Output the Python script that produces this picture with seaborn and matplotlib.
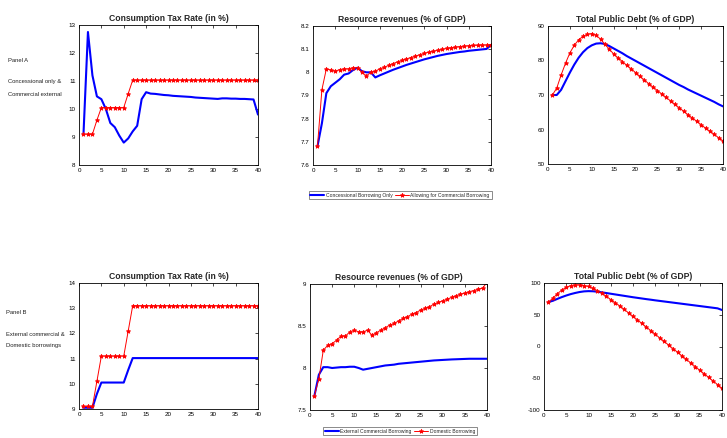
import numpy as np
import pandas as pd
import matplotlib
matplotlib.use("Agg")
import matplotlib.pyplot as plt
import seaborn as sns

periods = list(range(1, 41))

# Panel A: concessional only vs allowing commercial external borrowing
tax_a_conc = [9.1, 12.75, 11.2, 10.45, 10.35, 10.0, 9.5, 9.35, 9.05, 8.8,
              8.95, 9.2, 9.4, 10.35, 10.6, 10.55, 10.54, 10.52, 10.5, 10.49,
              10.47, 10.46, 10.45, 10.44, 10.43, 10.41, 10.4, 10.39, 10.38, 10.37,
              10.36, 10.38, 10.38, 10.37, 10.37, 10.36, 10.36, 10.35, 10.34, 9.8]
tax_a_comm = [9.1, 9.1, 9.1, 9.6, 10.05, 10.05, 10.05, 10.05, 10.05, 10.05,
              10.55, 11.03, 11.03, 11.03, 11.03, 11.03, 11.03, 11.03, 11.03, 11.03,
              11.03, 11.03, 11.03, 11.03, 11.03, 11.03, 11.03, 11.03, 11.03, 11.03,
              11.03, 11.03, 11.03, 11.03, 11.03, 11.03, 11.03, 11.03, 11.03, 11.03]
res_a_conc = [7.68, 7.78, 7.91, 7.94, 7.955, 7.97, 7.99, 7.995, 8.01, 8.02,
              8.005, 8.0, 8.0, 7.978, 7.987, 7.995, 8.003, 8.011, 8.018, 8.025,
              8.032, 8.038, 8.044, 8.05, 8.056, 8.061, 8.066, 8.071, 8.075, 8.079,
              8.082, 8.085, 8.088, 8.09, 8.093, 8.095, 8.097, 8.099, 8.101, 8.118]
res_a_comm = [7.68, 7.925, 8.015, 8.01, 8.005, 8.012, 8.015, 8.015, 8.02, 8.02,
              8.0, 7.985, 8.0, 8.005, 8.015, 8.022, 8.03, 8.038, 8.045, 8.052,
              8.058, 8.064, 8.07, 8.076, 8.082, 8.087, 8.091, 8.095, 8.099, 8.103,
              8.106, 8.109, 8.111, 8.113, 8.115, 8.116, 8.117, 8.118, 8.118, 8.12]
debt_a_conc = [70.0, 70.0, 71.5, 74.0, 76.5, 78.8, 80.8, 82.4, 83.6, 84.4,
               84.9, 85.0, 84.8, 84.2, 83.5, 82.8, 82.1, 81.3, 80.6, 79.9,
               79.2, 78.5, 77.8, 77.1, 76.4, 75.7, 75.0, 74.3, 73.6, 72.9,
               72.3, 71.6, 71.0, 70.4, 69.8, 69.2, 68.6, 68.0, 67.3, 66.7]
debt_a_comm = [70.0, 72.0, 75.8, 79.2, 82.2, 84.4, 86.0, 87.0, 87.6, 87.8,
               87.3, 86.2, 84.7, 83.3, 81.9, 80.8, 79.7, 78.6, 77.6, 76.5,
               75.4, 74.4, 73.3, 72.3, 71.3, 70.3, 69.3, 68.3, 67.3, 66.3,
               65.3, 64.3, 63.3, 62.4, 61.4, 60.4, 59.5, 58.6, 57.6, 56.7]

# Panel B: external commercial vs domestic borrowing
tax_b_ext = [9.05, 9.05, 9.05, 9.6, 10.05, 10.05, 10.05, 10.05, 10.05, 10.05,
             10.55, 11.02, 11.02, 11.02, 11.02, 11.02, 11.02, 11.02, 11.02, 11.02,
             11.02, 11.02, 11.02, 11.02, 11.02, 11.02, 11.02, 11.02, 11.02, 11.02,
             11.02, 11.02, 11.02, 11.02, 11.02, 11.02, 11.02, 11.02, 11.02, 11.02]
tax_b_dom = [9.1, 9.1, 9.1, 10.1, 11.1, 11.1, 11.1, 11.1, 11.1, 11.1,
             12.1, 13.1, 13.1, 13.1, 13.1, 13.1, 13.1, 13.1, 13.1, 13.1,
             13.1, 13.1, 13.1, 13.1, 13.1, 13.1, 13.1, 13.1, 13.1, 13.1,
             13.1, 13.1, 13.1, 13.1, 13.1, 13.1, 13.1, 13.1, 13.1, 13.1]
res_b_ext = [7.67, 7.92, 8.01, 8.01, 8.0, 8.005, 8.01, 8.01, 8.015, 8.015,
             8.0, 7.98, 7.99, 8.0, 8.01, 8.02, 8.03, 8.035, 8.04, 8.05,
             8.055, 8.06, 8.065, 8.07, 8.075, 8.08, 8.085, 8.09, 8.093, 8.096,
             8.099, 8.102, 8.104, 8.106, 8.108, 8.11, 8.11, 8.11, 8.11, 8.11]
res_b_dom = [7.67, 7.87, 8.21, 8.27, 8.29, 8.33, 8.38, 8.38, 8.43, 8.45,
             8.43, 8.43, 8.45, 8.39, 8.42, 8.45, 8.48, 8.51, 8.53, 8.56,
             8.59, 8.61, 8.64, 8.66, 8.69, 8.71, 8.73, 8.76, 8.78, 8.80,
             8.82, 8.84, 8.86, 8.88, 8.89, 8.91, 8.92, 8.94, 8.95, 9.02]
debt_b_ext = [70.0, 72.0, 75.0, 77.8, 80.3, 82.5, 84.3, 85.8, 86.8, 87.2,
              87.0, 86.3, 85.3, 84.2, 83.1, 82.0, 80.9, 79.8, 78.7, 77.6,
              76.6, 75.6, 74.6, 73.7, 72.7, 71.8, 70.9, 70.0, 69.1, 68.2,
              67.3, 66.4, 65.5, 64.6, 63.7, 62.8, 61.9, 61.0, 60.1, 57.5]
debt_b_dom = [70.0, 76.0, 83.0, 89.0, 93.0, 96.0, 97.0, 97.0, 96.0, 94.5,
              91.5, 88.0, 84.0, 79.0, 74.0, 69.0, 64.0, 58.5, 53.0, 47.5,
              42.0, 36.3, 30.6, 25.0, 19.3, 13.6, 8.0, 2.3, -3.3, -9.0,
              -14.7, -20.4, -26.0, -31.7, -37.4, -43.0, -48.7, -54.3, -60.0, -66.0]

titles = ["Consumption Tax Rate (in %)", "Resource revenues (% of GDP)",
          "Total Public Debt (% of GDP)"]
legend_a = ["Concessional Borrowing Only", "Allowing for Commercial Borrowing"]
legend_b = ["External Commercial Borrowing", "Domestic Borrowing"]

xticks = [0, 5, 10, 15, 20, 25, 30, 35, 40]

sns.set_style("white")
plt.rcParams["font.family"] = ["Liberation Sans Narrow", "Liberation Sans", "DejaVu Sans"]

W, H = 727, 438
fig = plt.figure(figsize=(W / 100, H / 100), dpi=100)


def make_ax(l, r, t, b):
    return fig.add_axes([l / W, 1 - b / H, (r - l) / W, (b - t) / H])


BLUE = "#0000ff"
RED = "#ff0000"


def draw(ax, blue, red, labels, title, ylim, yticks):
    df = pd.DataFrame({"t": periods, "blue": blue, "red": red})
    sns.lineplot(data=df, x="t", y="blue", ax=ax, color=BLUE, linewidth=1.5,
                 label=labels[0], legend=False)
    sns.lineplot(data=df, x="t", y="red", ax=ax, color=RED, linewidth=0.7,
                 marker="*", markersize=3.2, markeredgewidth=0.6,
                 markeredgecolor=RED, label=labels[1], legend=False)
    ax.set_xlim(0, 40)
    ax.set_ylim(*ylim)
    ax.set_xticks(xticks)
    ax.set_yticks(yticks)
    ax.set_yticklabels([f"{v:g}" for v in yticks])
    ax.set_xlabel("")
    ax.set_ylabel("")
    ax.set_title(title, fontsize=6.2, fontweight="bold", pad=3)
    ax.tick_params(direction="in", length=2, width=0.5, labelsize=4.5,
                   top=True, right=True, pad=2.5, colors="black")
    for s in ax.spines.values():
        s.set_linewidth(0.6)
        s.set_color("black")
    return ax


ax1 = make_ax(79, 258, 25, 165)
draw(ax1, tax_a_conc, tax_a_comm, legend_a, titles[0], (8, 13),
     [8, 9, 10, 11, 12, 13])
ax2 = make_ax(313, 491, 26, 165)
draw(ax2, res_a_conc, res_a_comm, legend_a, titles[1], (7.6, 8.2),
     [7.6, 7.7, 7.8, 7.9, 8.0, 8.1, 8.2])
ax3 = make_ax(548, 723, 26, 164)
draw(ax3, debt_a_conc, debt_a_comm, legend_a, titles[2], (50, 90),
     [50, 60, 70, 80, 90])

ax4 = make_ax(79, 258, 283, 409)
draw(ax4, tax_b_ext, tax_b_dom, legend_b, titles[0], (9, 14),
     [9, 10, 11, 12, 13, 14])
ax5 = make_ax(310, 487, 284, 410)
draw(ax5, res_b_ext, res_b_dom, legend_b, titles[1], (7.5, 9),
     [7.5, 8, 8.5, 9])
ax6 = make_ax(544, 722, 283, 410)
draw(ax6, debt_b_ext, debt_b_dom, legend_b, titles[2], (-100, 100),
     [-100, -50, 0, 50, 100])

# Legends below the middle column of each panel
for ax, xc, yc in ((ax2, 400, 195), (ax5, 400, 431)):
    h, l = ax.get_legend_handles_labels()
    leg = fig.legend(h, l, loc="center", bbox_to_anchor=(xc / W, 1 - yc / H),
                     ncol=2, fontsize=3.6, frameon=True, fancybox=False,
                     handlelength=2.8, handletextpad=0.3, columnspacing=0.5,
                     borderpad=0.35, borderaxespad=0)
    leg.get_frame().set_edgecolor("#555555")
    leg.get_frame().set_linewidth(0.6)

# Panel descriptions on the left margin
side = dict(fontsize=4.2, ha="left", va="center", color="#222222")
fig.text(8 / W, 1 - 60 / H, "Panel A", **side)
fig.text(8 / W, 1 - 82 / H, "Concessional only &", **side)
fig.text(8 / W, 1 - 94 / H, "Commercial external", **side)
fig.text(6 / W, 1 - 313 / H, "Panel B", **side)
fig.text(6 / W, 1 - 334 / H, "External commercial &", **side)
fig.text(6 / W, 1 - 345 / H, "Domestic borrowings", **side)

fig.savefig("out.png", dpi=100, facecolor="white")
